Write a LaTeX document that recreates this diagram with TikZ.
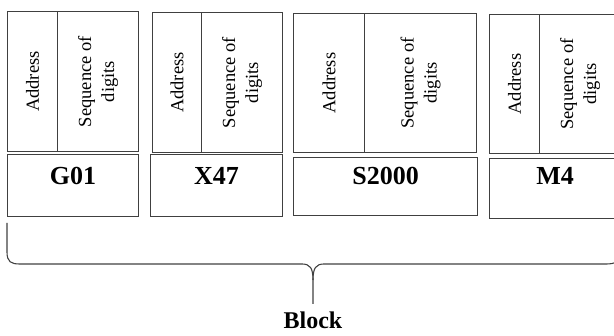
\documentclass[tikz,border=0pt]{standalone}
\usepackage{fontspec}
\setmainfont{Liberation Serif}
\usetikzlibrary{positioning}
\definecolor{linegray}{HTML}{404040}
\tikzset{
  cell/.style={draw=linegray,line width=1.1pt,inner sep=0pt,anchor=north west},
  vtext/.style={rotate=90,align=center,font=\fontsize{18.5}{23}\selectfont},
  lab/.style={inner sep=0pt,font=\fontsize{26}{30}\selectfont\bfseries},
}
\begin{document}
\begin{tikzpicture}[x=1pt,y=-1pt]
\useasboundingbox (0,0) rectangle (614,336);

% upper cells
\node[cell,minimum width=50,minimum height=140,label={[vtext]center:Address}] (a1) at (7,11) {};
\node[cell,minimum width=81,minimum height=140,label={[vtext]center:Sequence of\\digits}] (s1) at (57,11) {};
\node[cell,minimum width=49,minimum height=140,label={[vtext]center:Address}] (a2) at (152,12) {};
\node[cell,minimum width=81,minimum height=140,label={[vtext]center:Sequence of\\digits}] (s2) at (201,12) {};
\node[cell,minimum width=71,minimum height=139,label={[vtext]center:Address}] (a3) at (293,13) {};
\node[cell,minimum width=112,minimum height=139,label={[vtext]center:Sequence of\\digits}] (s3) at (364,13) {};
\node[cell,minimum width=50,minimum height=139,label={[vtext]center:Address}] (a4) at (489,14) {};
\node[cell,minimum width=81,minimum height=139,label={[vtext]center:Sequence of\\digits}] (s4) at (539,14) {};

% lower cells
\node[cell,minimum width=131,minimum height=62] (b1) at (7,154) {};
\node[cell,minimum width=132,minimum height=62] (b2) at (150,154) {};
\node[cell,minimum width=184,minimum height=58] (b3) at (293,157) {};
\node[cell,minimum width=131,minimum height=60] (b4) at (489,158) {};

\node[lab,below=13pt of b1.north] (g01) {G01};
\node[lab,below=13pt of b2.north] (x47) {X47};
\node[lab,below=10pt of b3.north] (s2000) {S2000};
\node[lab,below=9pt of b4.north] (m4) {M4};

% brace
\coordinate (tip) at (313,304);
\draw[linegray,line width=1.1pt] (7,223) -- (7,252) .. controls (7,262) and (11,264) .. (20,264)
  -- (302,264) .. controls (310,264) and (313,268) .. (313,280) -- (tip);
\draw[linegray,line width=1.1pt] (313,280) .. controls (313,268) and (316,264) .. (324,264)
  -- (606,264) .. controls (615,264) and (620,262) .. (620,252) -- (620,223);
\node[lab,font=\fontsize{24}{28}\selectfont\bfseries,below=8pt of tip] (block) {Block};

\end{tikzpicture}
\end{document}
